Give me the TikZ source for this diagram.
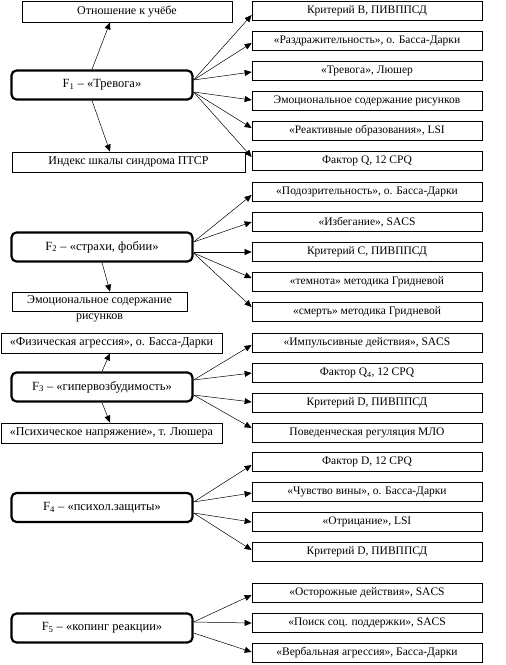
\documentclass[tikz,border=0pt]{standalone}
\usepackage{fontspec}
\setmainfont{Liberation Serif}
\usetikzlibrary{arrows.meta,calc}
\begin{document}
\begin{tikzpicture}[x=1pt,y=-1pt,
 fbox/.style={draw,line width=2.2pt,rounded corners=5pt,minimum width=181pt,minimum height=29pt,inner sep=0pt,font=\fontsize{12.5}{14}\selectfont},
 rbox/.style={draw,line width=0.7pt,minimum width=230pt,minimum height=19pt,inner sep=0pt,font=\fontsize{11.5}{13}\selectfont},
 lbox/.style={draw,line width=0.7pt,inner sep=0pt,font=\fontsize{12}{13}\selectfont},
 arr/.style={-{Triangle[length=7pt,width=6pt]},line width=0.5pt}]
\useasboundingbox (0,0) rectangle (506,665);
% factor boxes
\node[fbox] (F1) at (102,85) {F\textsubscript{1} – «Тревога»};
\node[fbox] (F2) at (102,247) {F\textsubscript{2} – «страхи, фобии»};
\node[fbox] (F3) at (102,387) {F\textsubscript{3} – «гипервозбудимость»};
\node[fbox] (F4) at (102,507.5) {F\textsubscript{4} – «психол.защиты»};
\node[fbox] (F5) at (102,628) {F\textsubscript{5} – «копинг реакции»};
% left boxes
\node[lbox,minimum width=210pt,minimum height=21pt] (T1) at (127,11.5) {Отношение к учёбе};
\node[lbox,minimum width=233pt,minimum height=20pt] (B1) at (128.5,162) {Индекс шкалы синдрома ПТСР};
\node[lbox,minimum width=175pt,minimum height=19pt] (B2) at (99.5,301.5) {};
\node[font=\fontsize{12}{15.5}\selectfont,align=center,inner sep=0pt,anchor=north] (B2t) at ($(B2.north)+(0,4)$) {Эмоциональное содержание\\рисунков};
\node[lbox,minimum width=221pt,minimum height=20pt] (T3) at (111.5,343) {«Физическая агрессия», о. Басса-Дарки};
\node[lbox,minimum width=221pt,minimum height=20pt] (B3) at (111.5,433) {«Психическое напряжение», т. Люшера};
% right boxes
\node[rbox] (R11) at (367,11) {Критерий В, ПИВППСД};
\node[rbox] (R12) at (367,41) {«Раздражительность», о. Басса-Дарки};
\node[rbox] (R13) at (367,71) {«Тревога», Люшер};
\node[rbox] (R14) at (367,101) {Эмоциональное содержание рисунков};
\node[rbox] (R15) at (367,131) {«Реактивные образования», LSI};
\node[rbox] (R16) at (367,161) {Фактор Q, 12 CPQ};
\node[rbox] (R21) at (367,192) {«Подозрительность», о. Басса-Дарки};
\node[rbox] (R22) at (367,222) {«Избегание», SACS};
\node[rbox] (R23) at (367,252) {Критерий С, ПИВППСД};
\node[rbox] (R24) at (367,282) {«темнота» методика Гридневой};
\node[rbox] (R25) at (367,312) {«смерть» методика Гридневой};
\node[rbox] (R31) at (367,343) {«Импульсивные действия», SACS};
\node[rbox] (R32) at (367,373) {Фактор Q\textsubscript{4}, 12 CPQ};
\node[rbox] (R33) at (367,403) {Критерий D, ПИВППСД};
\node[rbox] (R34) at (367,433) {Поведенческая регуляция МЛО};
\node[rbox] (R41) at (367,462) {Фактор D, 12 CPQ};
\node[rbox] (R42) at (367,492) {«Чувство вины», о. Басса-Дарки};
\node[rbox] (R43) at (367,522) {«Отрицание», LSI};
\node[rbox] (R44) at (367,552) {Критерий D, ПИВППСД};
\node[rbox] (R51) at (367,593) {«Осторожные действия», SACS};
\node[rbox] (R52) at (367,623) {«Поиск соц. поддержки», SACS};
\node[rbox] (R53) at (367,653) {«Вербальная агрессия», Басса-Дарки};
% vertical arrows
\draw[arr] ($(F1.north)+(-10,0)$) -- ($(T1.south)+(-17,0)$);
\draw[arr] ($(F1.south)+(-10,0)$) -- ($(B1.north)+(-18.5,0)$);
\draw[arr] (F2.south) -- ($(B2.north)+(10.5,0)$);
\draw[arr] (F3.north) -- ($(T3.south)+(-1.5,0)$);
\draw[arr] (F3.south) -- ($(B3.north)+(-1.5,0)$);
% right arrows F1
\draw[arr] ($(F1.east)+(0,-5)$) -- ($(R11.west)+(0,4)$);
\draw[arr] ($(F1.east)+(0,-5)$) -- ($(R12.west)+(0,2)$);
\draw[arr] ($(F1.east)+(0,-5)$) -- ($(R13.west)+(0,1)$);
\draw[arr] ($(F1.east)+(0,7)$) -- ($(R14.west)+(0,-1)$);
\draw[arr] ($(F1.east)+(0,7)$) -- ($(R15.west)+(0,-3)$);
\draw[arr] ($(F1.east)+(0,7)$) -- ($(R16.west)+(0,-4)$);
% F2
\draw[arr] ($(F2.east)+(0,-5)$) -- ($(R21.west)+(0,3)$);
\draw[arr] ($(F2.east)+(0,-5)$) -- (R22.west);
\draw[arr] ($(F2.east)+(0,5)$) -- (R23.west);
\draw[arr] ($(F2.east)+(0,6)$) -- ($(R24.west)+(0,-4)$);
\draw[arr] ($(F2.east)+(0,6)$) -- ($(R25.west)+(0,-5)$);
% F3
\draw[arr] ($(F3.east)+(0,-7)$) -- ($(R31.west)+(0,2)$);
\draw[arr] ($(F3.east)+(0,-7)$) -- (R32.west);
\draw[arr] ($(F3.east)+(0,8)$) -- ($(R33.west)+(0,-1)$);
\draw[arr] ($(F3.east)+(0,8)$) -- ($(R34.west)+(0,-5)$);
% F4
\draw[arr] ($(F4.east)+(0,-5.5)$) -- ($(R41.west)+(0,3)$);
\draw[arr] ($(F4.east)+(0,-5.5)$) -- ($(R42.west)+(0,1)$);
\draw[arr] ($(F4.east)+(0,5.5)$) -- (R43.west);
\draw[arr] ($(F4.east)+(0,5.5)$) -- ($(R44.west)+(0,-2)$);
% F5
\draw[arr] ($(F5.east)+(0,-6)$) -- ($(R51.west)+(0,2)$);
\draw[arr] ($(F5.east)+(0,-6)$) -- (R52.west);
\draw[arr] ($(F5.east)+(0,5)$) -- ($(R53.west)+(0,-1)$);
\end{tikzpicture}
\end{document}
